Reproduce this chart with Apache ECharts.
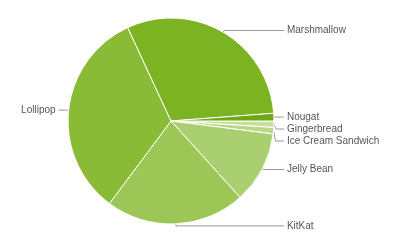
<!DOCTYPE html>
<html><head><meta charset="utf-8">
<script src="https://cdn.jsdelivr.net/npm/echarts@6/dist/echarts.min.js"></script>
<style>html,body{margin:0;padding:0;background:#fff;}#c{width:400px;height:250px;}</style>
</head><body><div id="c"></div>
<script>
var categories = ['Gingerbread','Ice Cream Sandwich','Jelly Bean','KitKat','Lollipop','Marshmallow','Nougat'];
var values = [1.0, 1.0, 11.3, 21.9, 32.9, 30.7, 1.2];
var colors = ['#c6df9c','#b8d788','#a9cf71','#9cc656','#8abb36','#7cb323','#6ea914'];
var chart = echarts.init(document.getElementById('c'), null, {renderer:'canvas'});
chart.setOption({
  animation:false,
  series:[{
    type:'pie',
    center:[171,121],
    radius:[0,103],
    startAngle:0,
    clockwise:true,
    avoidLabelOverlap:true,
    itemStyle:{borderColor:'#fff',borderWidth:1},
    label:{
      show:true,
      formatter:'{b}',
      fontFamily:'Liberation Sans, Arial, sans-serif',
      fontSize:10,
      color:'#555',
      alignTo:'labelLine',
      edgeDistance:17,
      padding:[3,0,0,0],
      distanceToLabelLine:3
    },
    labelLine:{show:true,length:2,length2:8,lineStyle:{color:'#999',width:1}},
    data: categories.map(function(n,i){return {name:n,value:values[i],itemStyle:{color:colors[i]}};})
  }]
});
</script></body></html>
